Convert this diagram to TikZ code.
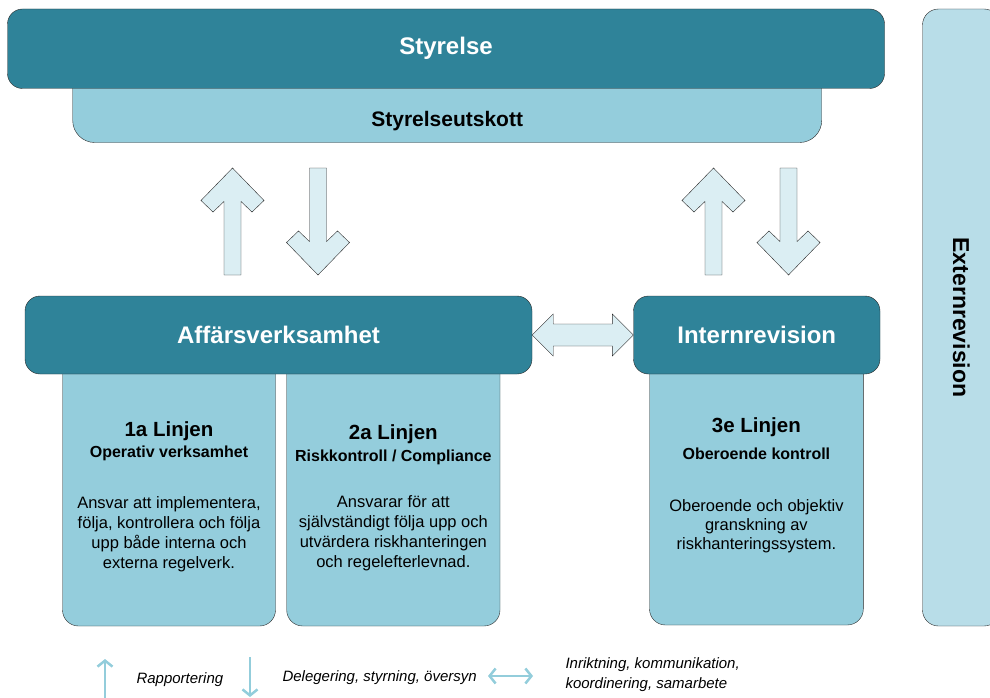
\documentclass[tikz,border=0pt]{standalone}
\usepackage{fontspec}
\setmainfont{Liberation Sans}
\usepackage{xcolor}
\usepackage{tikz}
\usetikzlibrary{arrows.meta, positioning, calc}

\definecolor{tealbox}{HTML}{2F8399}
\definecolor{linefill}{HTML}{94CDDC}
\definecolor{extfill}{HTML}{B8DDE8}
\definecolor{arrowfill}{HTML}{DBEEF3}
\definecolor{legendblue}{HTML}{93CDDB}
\definecolor{edge}{HTML}{2A2A2A}

\begin{document}
\begin{tikzpicture}[
    x=1pt, y=-1pt,
    topbox/.style={rectangle, draw=edge, rounded corners=15pt, fill=tealbox, text=white, font=\fontsize{24}{28}\selectfont\bfseries},
    subbox/.style={rectangle, draw=edge, rounded corners=16pt, fill=#1},
    linetext/.style={align=center, inner sep=0pt, font=\fontsize{16.5}{20}\selectfont},
    blockarrow/.style={draw=edge, fill=arrowfill, line join=miter},
    legendarrow/.style={draw=legendblue, line width=2.5pt},
    legendtext/.style={font=\fontsize{15}{20}\selectfont\itshape, align=left}
]
\useasboundingbox (0,0) rectangle (990,698);
\clip (0,0) rectangle (990,698);

% board and committee
\node[subbox=linefill, rounded corners=22pt, minimum width=749pt, minimum height=82.5pt,
      label={[anchor=center, yshift=22pt, font=\fontsize{21}{25}\selectfont\bfseries]south:Styrelseutskott}] (utskott) at (447.2,101.25) {};
\node[topbox, minimum width=877pt, minimum height=79.5pt] (styrelse) at (446,48.75) {Styrelse};

% the three lines
\node[subbox=linefill, minimum width=213pt, minimum height=281pt,
      label={[linetext, anchor=north, yshift=-77pt]north:{{\fontsize{20.5}{24}\selectfont\bfseries 1a Linjen}\\[1pt]{\fontsize{16}{19}\selectfont\bfseries Operativ verksamhet}\\[31pt]Ansvar att implementera,\\följa, kontrollera och följa\\upp både interna och\\externa regelverk.}}] (linje1) at (169,485.5) {};
\node[subbox=linefill, minimum width=213.3pt, minimum height=281pt,
      label={[linetext, anchor=north, yshift=-80pt]north:{{\fontsize{20.5}{24}\selectfont\bfseries 2a Linjen}\\[2pt]{\fontsize{16}{19}\selectfont\bfseries Riskkontroll / Compliance}\\[26pt]Ansvarar för att\\självständigt följa upp och\\utvärdera riskhanteringen\\och regelefterlevnad.}}] (linje2) at (393.35,485.5) {};
\node[subbox=linefill, minimum width=213.8pt, minimum height=280pt,
      label={[linetext, font=\fontsize{16.5}{19}\selectfont, anchor=north, yshift=-73pt]north:{{\fontsize{20.5}{24}\selectfont\bfseries 3e Linjen}\\[8pt]{\fontsize{16}{19}\selectfont\bfseries Oberoende kontroll}\\[33pt]Oberoende och objektiv\\granskning av\\riskhanteringssystem.}}] (linje3) at (756.4,485) {};

\node[topbox, minimum width=507pt, minimum height=78pt] (aff) at (278.5,335) {Affärsverksamhet};
\node[topbox, minimum width=246.5pt, minimum height=78pt] (intern) at (756.75,335) {Internrevision};

% external audit
\node[subbox=extfill, rotate=-90, minimum width=617pt, minimum height=77.5pt,
      font=\fontsize{23}{27}\selectfont\bfseries] (extern) at (961.25,317.5) {Externrevision};

% block arrows
\draw[blockarrow, shift={(232.5,168)}] (0,0) -- (-31.5,32.5) -- (-19.5,44) -- (-8.5,33.5) -- (-8.5,107) -- (8.5,107) -- (8.5,33.5) -- (19.5,44) -- (31.5,32.5) -- cycle;
\draw[blockarrow, shift={(318,275)}, yscale=-1] (0,0) -- (-31.5,32.5) -- (-19.5,44) -- (-8.5,33.5) -- (-8.5,107) -- (8.5,107) -- (8.5,33.5) -- (19.5,44) -- (31.5,32.5) -- cycle;
\draw[blockarrow, shift={(713.5,168)}] (0,0) -- (-31.5,32.5) -- (-19.5,44) -- (-8.5,33.5) -- (-8.5,107) -- (8.5,107) -- (8.5,33.5) -- (19.5,44) -- (31.5,32.5) -- cycle;
\draw[blockarrow, shift={(788.5,275)}, yscale=-1] (0,0) -- (-31.5,32.5) -- (-19.5,44) -- (-8.5,33.5) -- (-8.5,107) -- (8.5,107) -- (8.5,33.5) -- (19.5,44) -- (31.5,32.5) -- cycle;
\draw[blockarrow] (aff.east) -- ++(21,-21) -- ++(0,10) -- ($(intern.west)+(-21,-11)$) -- ++(0,-10) -- (intern.west)
    -- ++(-21,21) -- ++(0,-10) -- ($(aff.east)+(21,11)$) -- ++(0,10) -- cycle;

% legend
\coordinate (rapbot) at (105,699);
\coordinate (raptop) at (105,659);
\coordinate (deltop) at (250,657);
\coordinate (delbot) at (250,697);
\coordinate (inrleft) at (488,676);
\coordinate (inrright) at (533,676);
\draw[legendarrow, -{Straight Barb[length=6pt, width=15pt]}] (rapbot) -- (raptop);
\draw[legendarrow, -{Straight Barb[length=6pt, width=15pt]}] (deltop) -- (delbot);
\draw[legendarrow, {Straight Barb[length=6pt, width=15pt]}-{Straight Barb[length=6pt, width=15pt]}] (inrleft) -- (inrright);
\node[legendtext, anchor=west] (rap) at (133,680) {Rapportering};
\node[legendtext, anchor=west] (del) at (279,678) {Delegering, styrning, översyn};
\node[legendtext, anchor=west] (inr) at (562,675) {Inriktning, kommunikation,\\koordinering, samarbete};
\end{tikzpicture}
\end{document}
